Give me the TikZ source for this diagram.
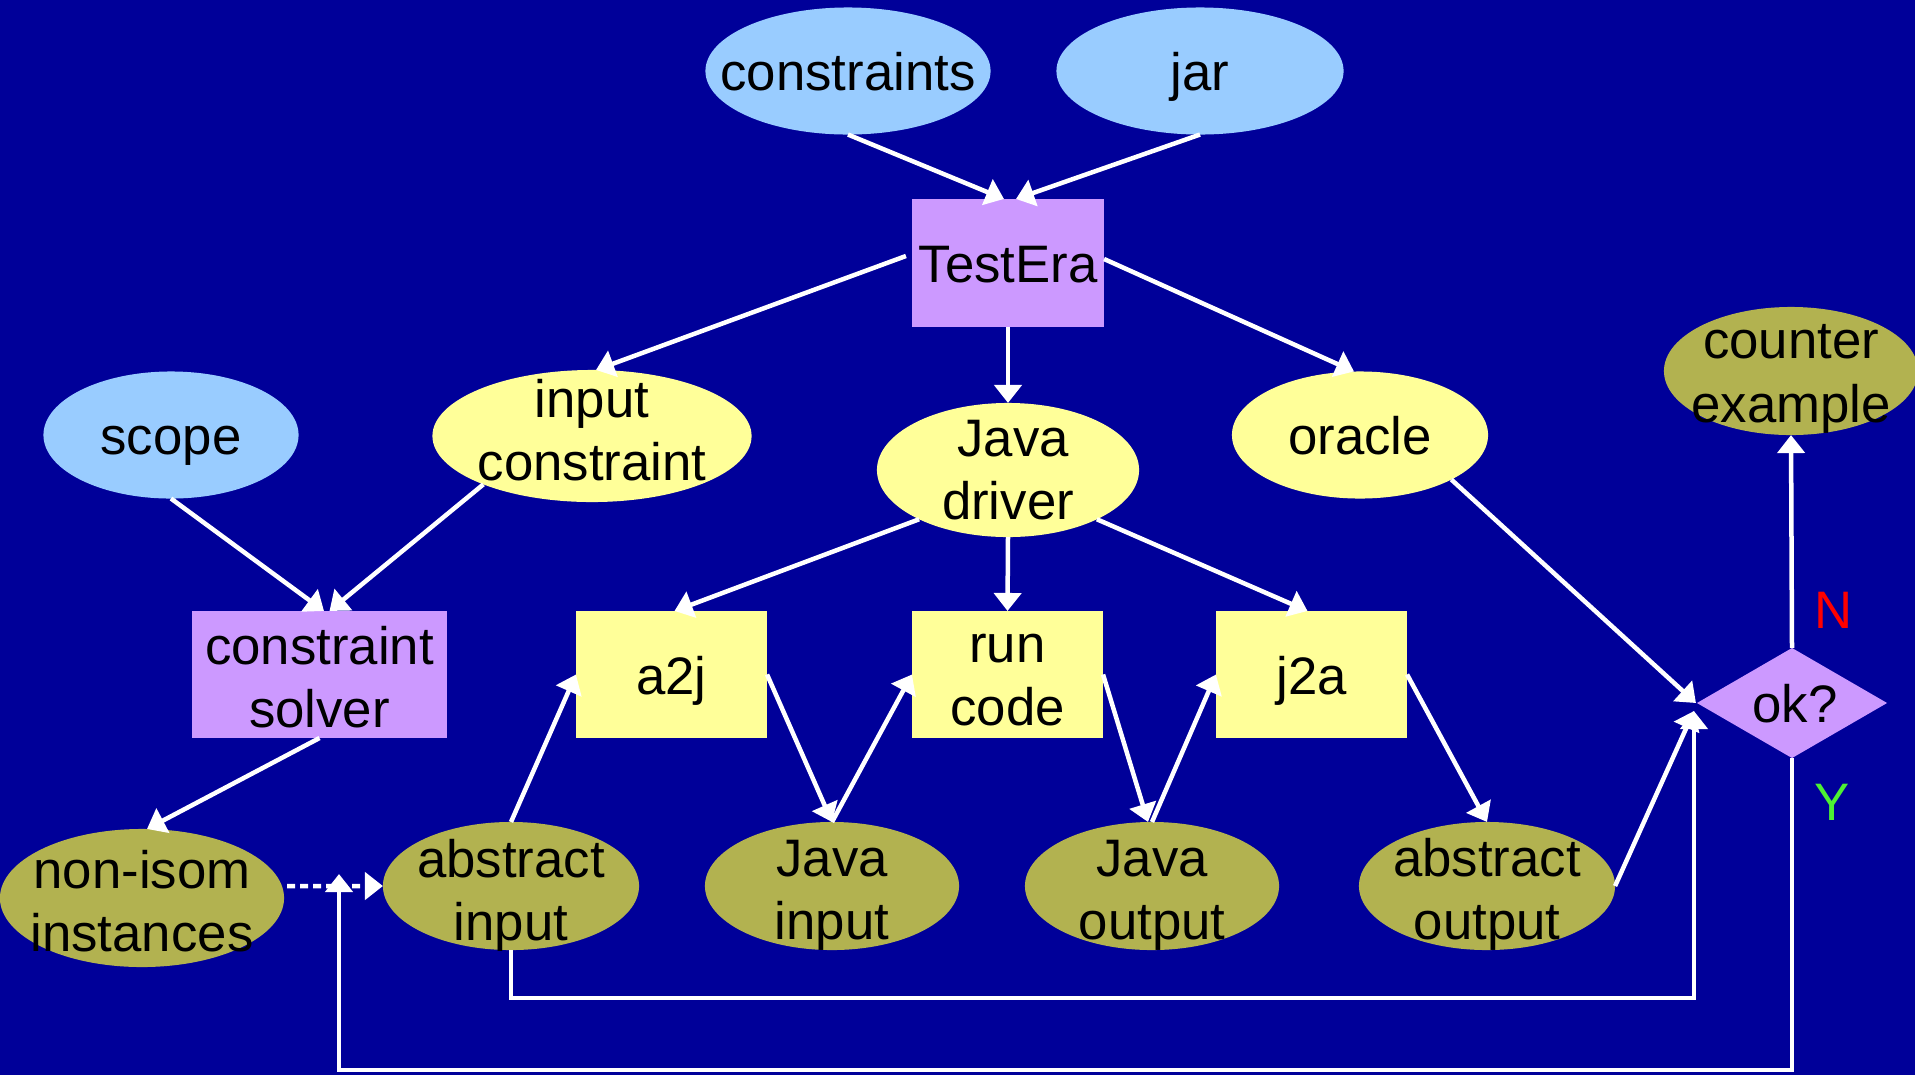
\documentclass[tikz,border=0pt]{standalone}
\usepackage{fontspec}
\setmainfont{Liberation Sans}
\usetikzlibrary{shapes.geometric,arrows.meta}
\definecolor{bgblue}{RGB}{0,0,153}
\definecolor{skyfill}{RGB}{153,204,255}
\definecolor{lilac}{RGB}{204,153,255}
\definecolor{paleyellow}{RGB}{255,255,153}
\definecolor{olivefill}{RGB}{178,178,80}
\definecolor{noRed}{RGB}{255,0,0}
\definecolor{yesGreen}{RGB}{77,240,51}
\begin{document}
\begin{tikzpicture}[x=0.01cm,y=-0.01cm,
  every node/.style={inner sep=0pt,outer sep=0pt},
  oval/.style={ellipse,draw=none,fill=#1},
  box/.style={rectangle,draw=none,fill=#1},
  lbl/.style={font=\fontsize{15pt}{18pt}\selectfont,align=center,text=black},
  one/.style={lbl,text height=11.1pt,text depth=0pt},
  wire/.style={draw=white,line width=0.045cm},
  arr/.style={wire,-{Triangle[length=0.18cm,width=0.27cm]}},
  dotarr/.style={arr,dash pattern=on 0.08cm off 0.05cm}]

% background and page size
\fill[bgblue] (0,0) rectangle (1915,1075);
\useasboundingbox (0,0) rectangle (1915,1075);

% inputs at the top
\node[oval=skyfill,minimum width=2.85cm,minimum height=1.27cm] (constraints) at (848,71) {};
\node[one] (constraints-t) at (constraints) {constraints};
\node[oval=skyfill,minimum width=2.87cm,minimum height=1.27cm] (jar) at (1200,71) {};
\node[one] (jar-t) at (jar) {jar};

% TestEra
\node[box=lilac,minimum width=1.92cm,minimum height=1.28cm] (testera) at (1008,263) {};
\node[one] (testera-t) at (testera) {TestEra};

% second row
\node[oval=skyfill,minimum width=2.55cm,minimum height=1.27cm] (scope) at (171,435) {};
\node[one] (scope-t) at (scope) {scope};
\node[oval=paleyellow,minimum width=3.19cm,minimum height=1.32cm] (ic) at (592,436) {};
\node[lbl] (ic-t) at (592,430) {input\\constraint};
\node[oval=paleyellow,minimum width=2.62cm,minimum height=1.34cm] (jd) at (1008,470) {};
\node[lbl] (jd-t) at (1008,470) {\hspace*{0.1cm}Java\\driver};
\node[oval=paleyellow,minimum width=2.56cm,minimum height=1.27cm] (oracle) at (1360,435) {};
\node[one] (oracle-t) at (oracle) {oracle};
\node[oval=olivefill,minimum width=2.54cm,minimum height=1.28cm] (ce) at (1791,371) {};
\node[lbl] (ce-t) at (1791,379) {counter\\example};

% processing boxes
\node[box=lilac,minimum width=2.55cm,minimum height=1.27cm] (cs) at (319.5,674.5) {};
\node[lbl] (cs-t) at (319.5,677) {constraint\\solver};
\node[box=paleyellow,minimum width=1.91cm,minimum height=1.27cm] (a2j) at (671.5,674.5) {};
\node[one] (a2j-t) at (a2j) {a2j};
\node[box=paleyellow,minimum width=1.91cm,minimum height=1.27cm] (rc) at (1007.5,674.5) {};
\node[lbl] (rc-t) at (1007.5,680) {run\\code};
\node[box=paleyellow,minimum width=1.91cm,minimum height=1.27cm] (j2a) at (1311.5,674.5) {};
\node[one] (j2a-t) at (j2a) {j2a};

% decision
\node[diamond,fill=lilac,minimum width=1.90cm,minimum height=1.10cm] (ok) at (1792,703) {};
\node[one] (ok-t) at (1795,703) {ok?};
\node[one,text=noRed] (nlabel) at (1834,609) {N};
\node[one,text=yesGreen] (ylabel) at (1832,801) {Y};

% bottom row of data
\node[oval=olivefill,minimum width=2.84cm,minimum height=1.38cm] (noniso) at (142,898) {};
\node[lbl] (noniso-t) at (142,901) {non-isom\\instances};
\node[oval=olivefill,minimum width=2.56cm,minimum height=1.28cm] (absin) at (511,886) {};
\node[lbl] (absin-t) at (511,895) {abstract\\input};
\node[oval=olivefill,minimum width=2.54cm,minimum height=1.28cm] (jin) at (832,886) {};
\node[lbl] (jin-t) at (832,895) {Java\\input};
\node[oval=olivefill,minimum width=2.54cm,minimum height=1.28cm] (jout) at (1152,886) {};
\node[lbl] (jout-t) at (1152,895) {Java\\output};
\node[oval=olivefill,minimum width=2.56cm,minimum height=1.28cm] (absout) at (1487,886) {};
\node[lbl] (absout-t) at (1487,894) {abstract\\output};

% helper points for the feedback paths
\coordinate (okupper) at ([xshift=-0.01cm]ok.west);
\coordinate (oklower) at ([xshift=-0.03cm,yshift=-0.08cm]ok.west);
\coordinate (loopturn) at (511,998);
\coordinate (fbcorner) at (339,1070);
\coordinate (fbtip) at (339,874);

% connectors
\draw[arr] (constraints.south) -- ([xshift=-0.04cm]testera.north);
\draw[arr] (jar.south) -- ([xshift=0.08cm]testera.north);
\draw[arr] ([xshift=-0.06cm,yshift=0.07cm]testera.west) -- ([xshift=0.04cm]ic.north);
\draw[arr] ([yshift=0.04cm]testera.east) -- ([xshift=-0.06cm]oracle.north);
\draw[arr] (testera.south) -- (jd.north);
\draw[arr] (jd.209) -- ([xshift=0.03cm]a2j.north);
\draw[arr] (jd.south) -- (rc.north);
\draw[arr] (jd.331) -- ([xshift=-0.04cm]j2a.north);
\draw[arr] (scope.south) -- ([xshift=0.045cm]cs.north);
\draw[arr] (ic.204) -- ([xshift=0.1cm]cs.north);
\draw[arr] (cs.south) -- ([xshift=0.05cm]noniso.north);
\draw[arr] (absin.north) -- (a2j.west);
\draw[arr] (a2j.east) -- (jin.north);
\draw[arr] (jin.north) -- (rc.west);
\draw[arr] (rc.east) -- ([xshift=-0.04cm]jout.north);
\draw[arr] (jout.north) -- (j2a.west);
\draw[arr] (j2a.east) -- (absout.north);
\draw[arr] (oracle.334) -- (okupper);
\draw[arr] (absout.east) -- (oklower);
\draw[arr] (absin.south) -- (loopturn) -| (oklower);
\draw[arr] (ok.north) -- (ce.south);
\draw[dotarr] ([xshift=0.03cm,yshift=0.12cm]noniso.east) -- (absin.west);
\draw[arr] (ok.south) |- (fbcorner) -- (fbtip);
\end{tikzpicture}
\end{document}
